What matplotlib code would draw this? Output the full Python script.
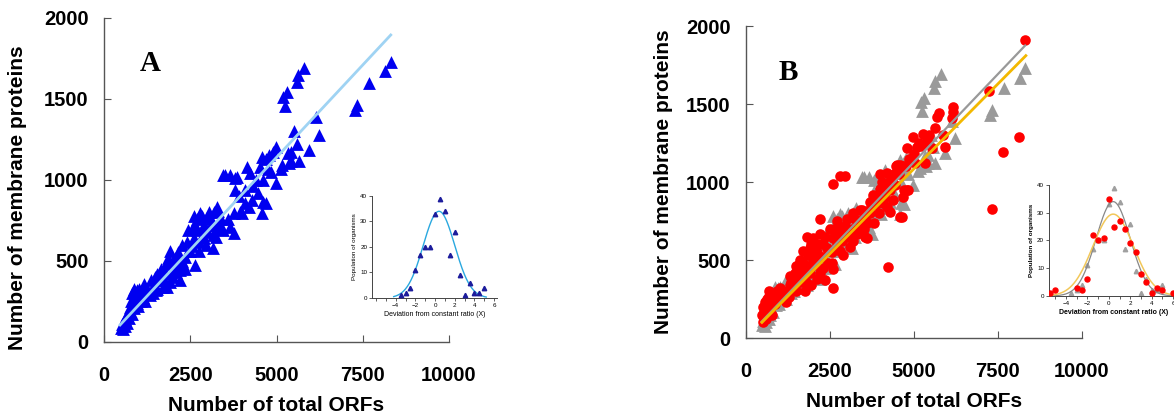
import numpy as np
import matplotlib
matplotlib.use("Agg")
from matplotlib import pyplot as plt
from matplotlib.ticker import MultipleLocator

plt.rcParams['font.family'] = ['Liberation Sans', 'DejaVu Sans']

# ---- panel A : all organisms (triangles) ----
a_orfs = [480, 560, 600, 620, 680, 700, 760, 800, 850, 880, 900, 950, 950, 1000, 1010, 1050,
          1100, 1130, 1150, 1200, 1220, 1300, 1340, 1400, 1450, 1500, 1540, 1600, 1630, 1700,
          1700, 1770, 1800, 1830, 1900, 1900, 1970, 1990, 2050, 2100, 2130, 2200, 2200, 2250,
          2300, 2350, 2400, 2440, 2500, 2550, 2600, 2600, 2650, 2700, 2700, 2750, 2790, 2850,
          2900, 2900, 2990, 3000, 3100, 3100, 3170, 3170, 3200, 3280, 3300, 3300, 3370, 3460,
          3460, 3520, 3600, 3660, 3660, 3760, 3760, 3800, 3810, 3860, 3900, 3950, 4010, 4100,
          4100, 4150, 4190, 4240, 4300, 4330, 4400, 4450, 4530, 4590, 4590, 4600, 4620, 4700,
          4700, 4740, 4770, 4830, 4900, 4970, 4970, 5120, 5170, 5200, 5240, 5290, 5320, 5350,
          5410, 5410, 5500, 5580, 5600, 5630, 5640, 5790, 5930, 6130, 6220, 7270, 7330, 7680,
          8150, 8310,
          520, 640, 720, 780, 820, 870, 920, 980, 1080, 1150, 1250, 1350, 1420, 1480, 1550,
          1650, 1750, 1850, 1950, 2050, 2150, 2250, 2350, 2450, 2550, 2650, 2750, 2850, 2950,
          3050, 3150, 3250, 3400]
a_mem = [85, 80, 100, 140, 120, 180, 215, 170, 260, 210, 300, 240, 320, 300, 330, 280,
         320, 280, 360, 250, 300, 300, 290, 330, 350, 320, 330, 380, 400, 420,
         340, 430, 480, 340, 370, 560, 495, 400, 520, 430, 555, 445, 380, 600,
         480, 525, 620, 690, 560, 590, 640, 780, 475, 690, 760, 620, 795, 700,
         640, 720, 770, 680, 720, 760, 660, 580, 800, 835, 700, 810, 710, 690,
         1030, 1030, 760, 710, 1030, 795, 670, 940, 1010, 1020, 900, 800, 795, 855,
         940, 1080, 835, 1040, 875, 960, 1000, 920, 1080, 1140, 795, 1000, 865, 860,
         1130, 1070, 1155, 1050, 1170, 1205, 980, 1070, 1090, 1510, 1455, 1540, 1165, 1105,
         1175, 1120, 1300, 1225, 1605, 1650, 1120, 1690, 1185, 1390, 1280, 1430, 1460, 1600,
         1670, 1730,
         110, 160, 150, 250, 300, 330, 270, 220, 250, 300, 330, 380, 300, 400, 420,
         450, 380, 520, 430, 470, 520, 500, 450, 560, 700, 720, 560, 780, 600,
         800, 720, 650, 760]
a_fit_x = [465, 8310]
a_fit_y = [105, 1895]

# ---- panel B : red circles over the grey triangles of A ----
b_orfs = [470, 500, 520, 570, 600, 650, 680, 700, 780, 800, 850, 880, 900, 980, 1000, 1020,
          1100, 1200, 1270, 1300, 1300, 1410, 1450, 1500, 1500, 1600, 1600, 1650, 1700, 1750,
          1800, 1820, 1850, 1900, 1900, 1950, 2000, 2000, 2100, 2100, 2200, 2200, 2200, 2300,
          2300, 2350, 2400, 2450, 2500, 2560, 2590, 2590, 2600, 2600, 2700, 2700, 2800, 2800,
          2800, 2900, 2900, 2950, 3000, 3000, 3050, 3100, 3200, 3200, 3300, 3390, 3400, 3500,
          3500, 3540, 3600, 3600, 3680, 3700, 3780, 3800, 3900, 3990, 4000, 4000, 4080, 4100,
          4140, 4200, 4200, 4230, 4290, 4290, 4350, 4380, 4380, 4400, 4480, 4490, 4580, 4580,
          4640, 4670, 4670, 4700, 4790, 4790, 4820, 4970, 5040, 5090, 5270, 5330, 5390, 5390,
          5540, 5620, 5680, 5750, 5860, 5920, 6130, 6160, 6170, 7230, 7320, 7650, 8120, 8300,
          550, 620, 700, 750, 830, 920, 1050, 1150, 1250, 1350, 1450, 1550, 1550, 1650, 1700,
          1750, 1850, 1950, 2050, 2150, 2250, 2350, 2450, 2550, 2650, 2750, 2850, 2950, 3150,
          3250, 3350, 3450, 3550, 3650, 3850, 3950, 4050, 4150, 4250, 4450, 4550, 4750, 4850,
          5000, 5150, 5250, 5450]
b_mem = [150, 100, 200, 230, 120, 180, 270, 230, 150, 280, 220, 290, 250, 250, 320, 260,
         280, 230, 260, 340, 400, 385, 330, 460, 300, 420, 500, 360, 480, 300,
         360, 650, 530, 420, 580, 340, 640, 500, 550, 380, 670, 420, 760, 600,
         450, 370, 580, 480, 700, 480, 985, 320, 640, 440, 600, 750, 710, 560,
         1040, 670, 530, 1040, 760, 700, 650, 585, 800, 620, 670, 820, 750, 700,
         800, 650, 640, 735, 870, 800, 915, 735, 865, 905, 955, 1050, 865, 900,
         980, 1060, 840, 455, 810, 950, 1015, 885, 1030, 1050, 1100, 1110, 1110, 775,
         775, 905, 1100, 950, 1215, 950, 950, 1290, 1120, 1225, 1310, 1120, 1270, 1250,
         1215, 1345, 1420, 1440, 1300, 1225, 1410, 1480, 1450, 1585, 825, 1190, 1290, 1910,
         170, 250, 300, 200, 260, 300, 310, 270, 300, 360, 420, 380, 470, 450, 560,
         420, 460, 600, 470, 600, 520, 650, 560, 550, 700, 640, 620, 720, 700,
         760, 700, 820, 760, 820, 850, 800, 1000, 930, 1000, 980, 1050, 1100, 1150,
         1180, 1250, 1230, 1300]
b_fit_x = [475, 8330]
b_fit_y = [100, 1810]
grey_fit_y = [105, 1875]

# ---- insets : distribution of deviation from constant ratio ----
dev_a = [-3.5, -3, -2.5, -2, -1.5, -1, -0.5, 0, 0.5, 1, 1.5, 2, 2.5, 3, 3.5, 4, 4.5, 5]
pop_a = [1, 2, 4, 11, 17, 20, 20, 33, 39, 34, 17, 26, 9, 1, 6, 2, 2, 4]
dev_b = [-5.5, -5, -3, -2.5, -2, -1.5, -1, -0.5, 0, 0.5, 1, 1.5, 2, 2.5, 3, 3.5, 4, 4.5, 5, 6]
pop_b = [1, 2, 3, 2, 6, 22, 20, 21, 35, 25, 27, 24, 19, 16, 8, 5, 1, 3, 2, 1]
# gaussian fits: (height, centre, width)
gauss_a = (34, 0.4, 1.6)
gauss_b = (29.5, 0.4, 1.9)


def gauss(x, p):
    h, c, w = p
    return h * np.exp(-(x - c) ** 2 / (2 * w ** 2))


def style_main(ax):
    for s in ['top', 'right']:
        ax.spines[s].set_visible(False)
    for s in ['left', 'bottom']:
        ax.spines[s].set_color('#555555')
        ax.spines[s].set_linewidth(1.0)
    ax.set_xlim(0, 10000)
    ax.set_ylim(0, 2000)
    ax.set_xticks([0, 2500, 5000, 7500, 10000])
    ax.set_yticks([0, 500, 1000, 1500, 2000])
    ax.tick_params(axis='x', direction='in', length=5, pad=17, colors='#555555',
                   labelcolor='black', labelsize=14.5)
    ax.tick_params(axis='y', direction='in', length=5, pad=11, colors='#555555',
                   labelcolor='black', labelsize=14.5)
    for t in ax.get_xticklabels() + ax.get_yticklabels():
        t.set_fontweight('bold')
    ax.set_xlabel('Number of total ORFs', fontsize=15, fontweight='bold', labelpad=8)
    ax.set_ylabel('Number of membrane proteins', fontsize=15, fontweight='bold')


def style_inset(ax, xlim, bold):
    for s in ['top', 'right']:
        ax.spines[s].set_visible(False)
    for s in ['left', 'bottom']:
        ax.spines[s].set_color('#444444')
        ax.spines[s].set_linewidth(0.7)
    ax.set_xlim(*xlim)
    ax.set_ylim(0, 40)
    ax.set_xticks([-4, -2, 0, 2, 4, 6])
    ax.xaxis.set_minor_locator(MultipleLocator(1))
    ax.set_yticks([0, 10, 20, 30, 40])
    ax.tick_params(which='both', direction='out', length=2, width=0.6, pad=1.5,
                   labelsize=4.5, colors='#444444', labelcolor='black')
    w = 'bold' if bold else 'normal'
    ax.set_xlabel('Deviation from constant ratio (X)', fontsize=5, fontweight=w, labelpad=2)
    ax.set_ylabel('Population of organisms', fontsize=4.5, fontweight=w, labelpad=2)


fig = plt.figure(figsize=(11.74, 4.17), dpi=100)

# panel A
axA = fig.add_axes([0.0886, 0.1799, 0.2939, 0.777])
axA.scatter(a_orfs, a_mem, marker='^', s=85, color='#0000f0', linewidths=0, zorder=2)
axA.plot(a_fit_x, a_fit_y, color='#9fd3f3', lw=2, zorder=3)
style_main(axA)
axA.yaxis.set_label_coords(-0.222, 0.445)
axA.text(1330, 1720, 'A', fontsize=21, fontweight='bold', family='Liberation Serif',
         ha='center', va='center')

insA = fig.add_axes([0.3169, 0.2854, 0.1065, 0.2446])
xs = np.linspace(-4.2, 5.2, 200)
insA.plot(xs, gauss(xs, gauss_a), color='#2aa8df', lw=1.0, zorder=2)
insA.plot(dev_a, pop_a, '^', ms=3.2, color='#1c1c9c', zorder=3)
style_inset(insA, (-6.4, 6.3), False)

# panel B
axB = fig.add_axes([0.6354, 0.1894, 0.2862, 0.7482])
axB.scatter(a_orfs, a_mem, marker='^', s=85, color='#9a9a9a', linewidths=0, zorder=2)
axB.scatter(b_orfs, b_mem, marker='o', s=58, color='#ff0000', linewidths=0, zorder=3)
axB.plot(a_fit_x, grey_fit_y, color='#999999', lw=1.6, zorder=4)
axB.plot(b_fit_x, b_fit_y, color='#f3b800', lw=2, zorder=5)
style_main(axB)
axB.yaxis.set_label_coords(-0.217, 0.5)
axB.text(1250, 1700, 'B', fontsize=21, fontweight='bold', family='Liberation Serif',
         ha='center', va='center')

insB = fig.add_axes([0.8935, 0.2902, 0.1103, 0.2662])
xs = np.linspace(-5.5, 6.5, 200)
insB.plot(dev_a, pop_a, '^', ms=3.2, color='#a0a0a0', zorder=2)
insB.plot(xs, gauss(xs, gauss_a), color='#888888', lw=0.9, zorder=3)
insB.plot(xs, gauss(xs, gauss_b), color='#f2c85a', lw=1.1, zorder=3)
insB.plot(dev_b, pop_b, 'o', ms=3.6, color='#ff0000', zorder=4)
style_inset(insB, (-5.6, 6.5), True)

fig.savefig('out.png', dpi=100)
